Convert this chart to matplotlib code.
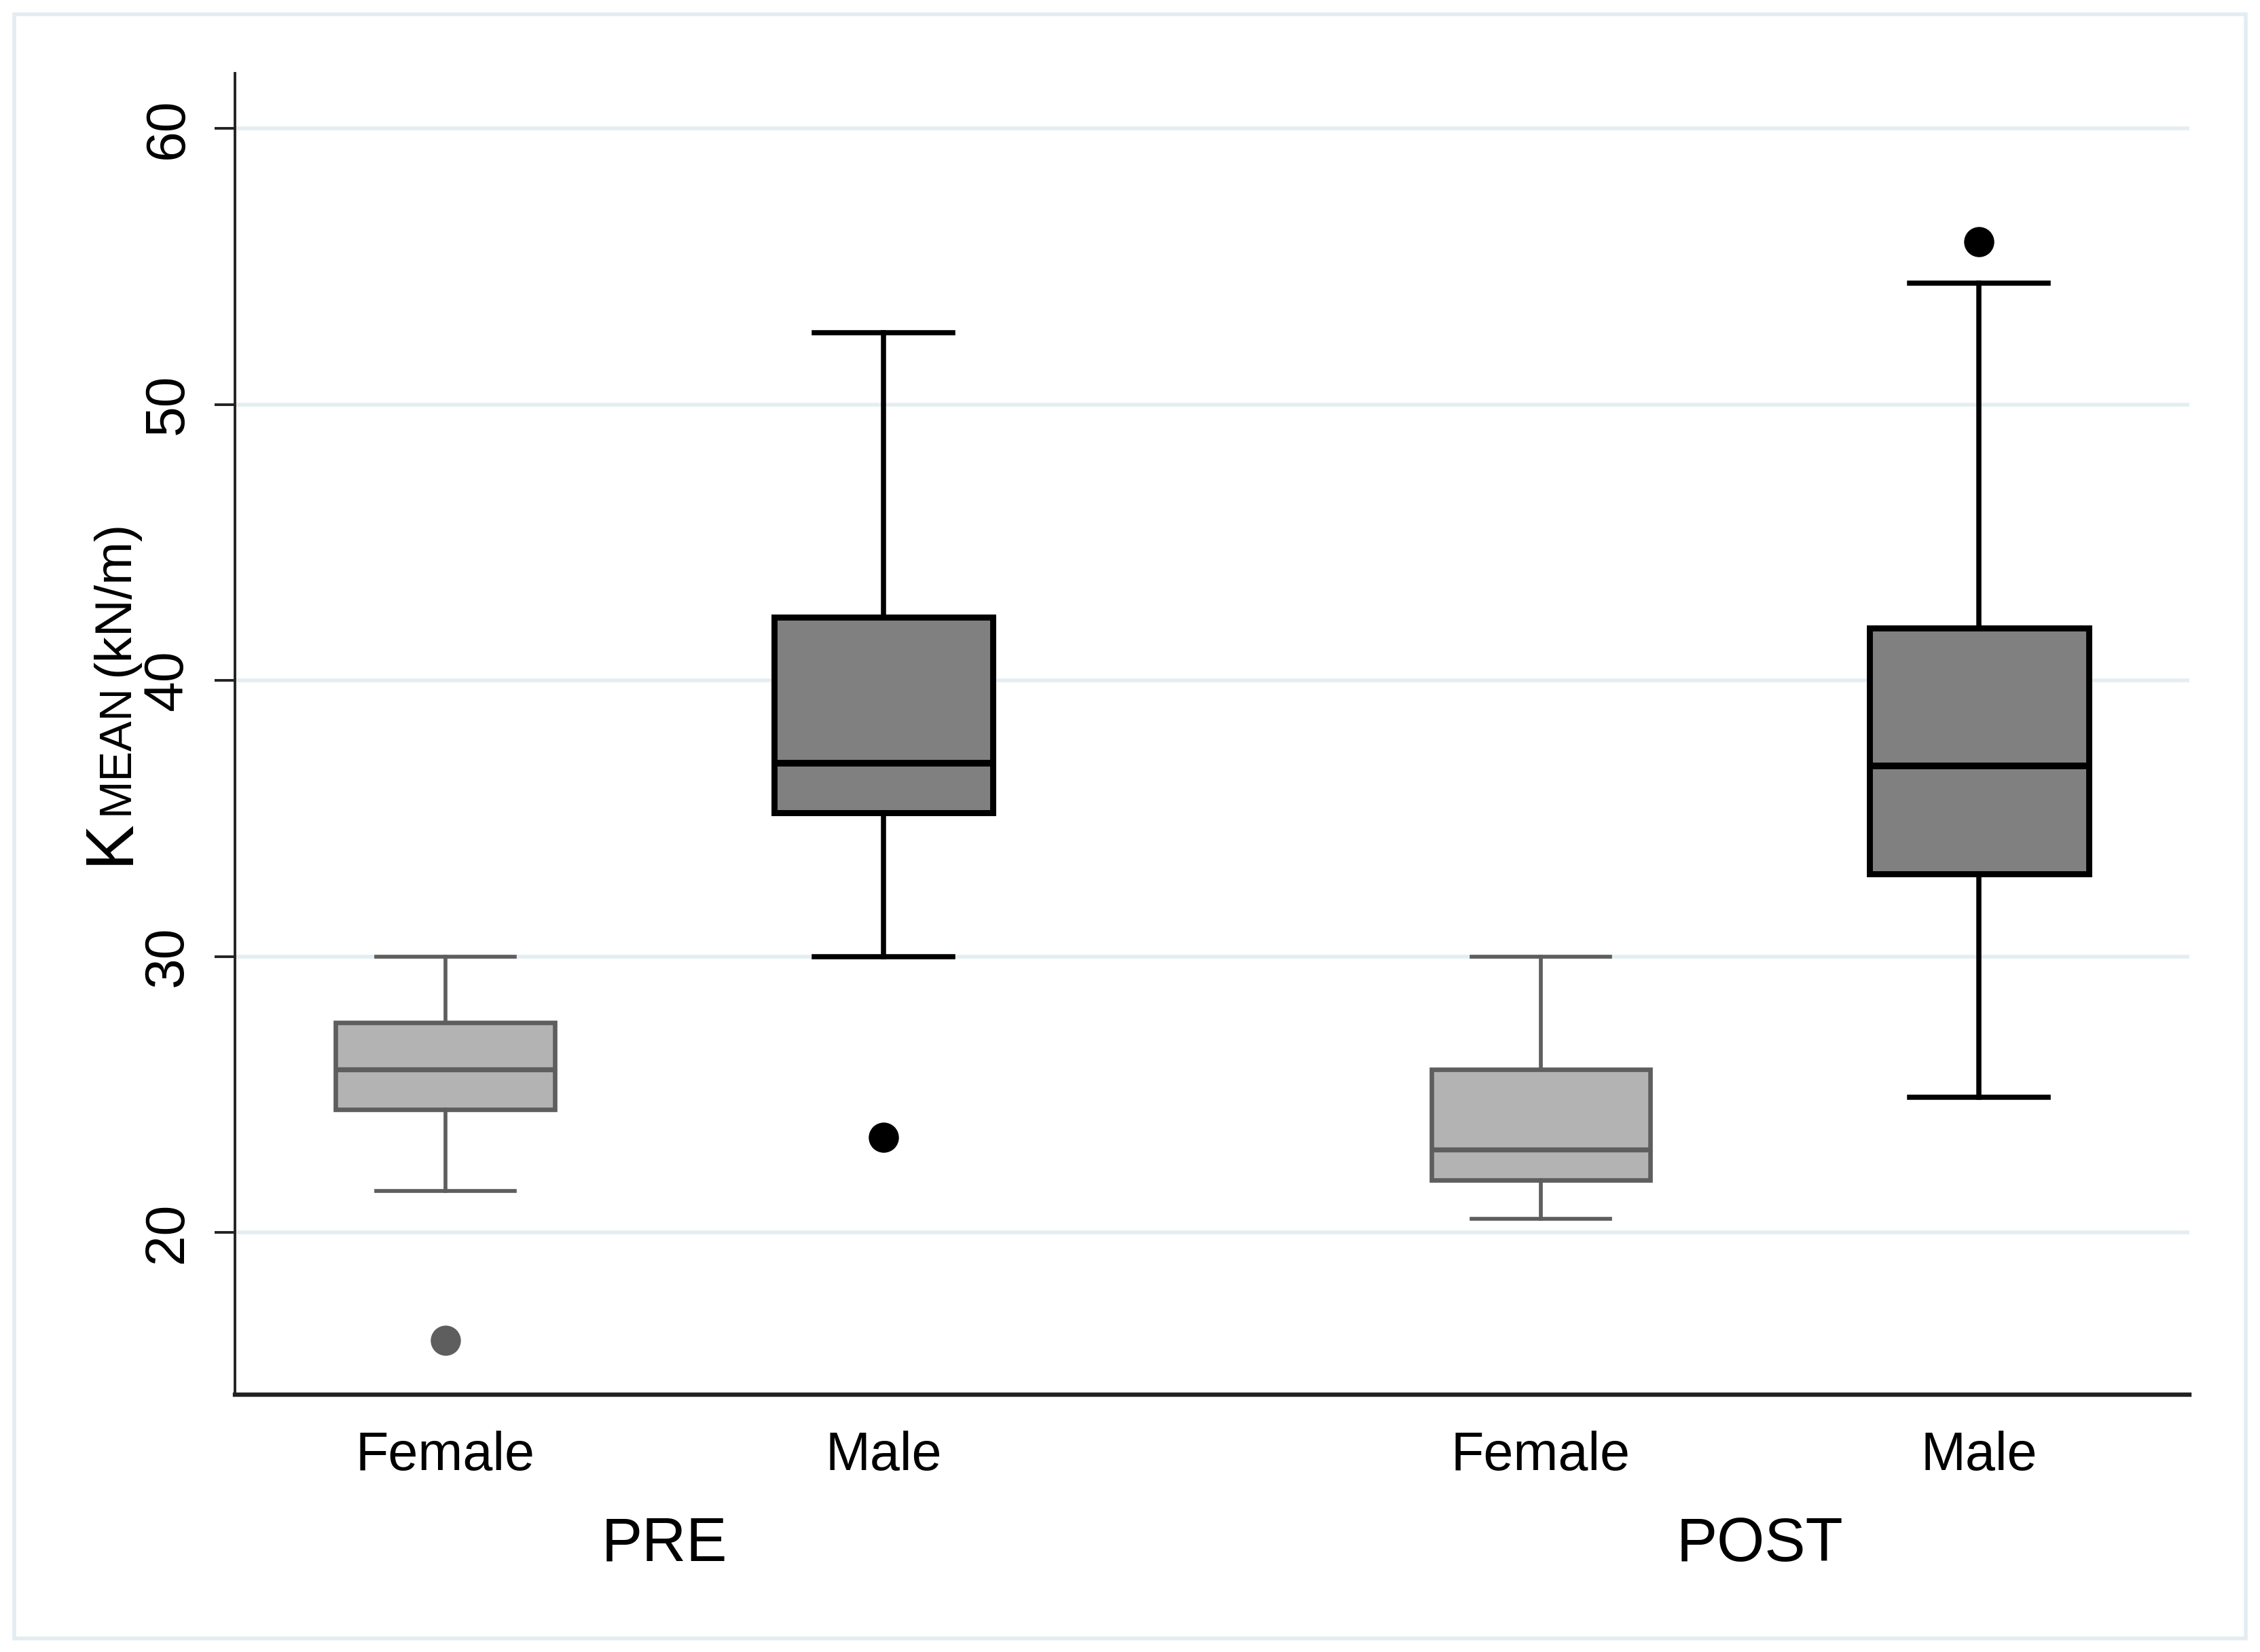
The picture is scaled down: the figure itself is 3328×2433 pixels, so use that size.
import matplotlib
matplotlib.use('Agg')
import matplotlib.pyplot as plt
import matplotlib.transforms as mtransforms
from matplotlib.patches import Rectangle

# ---------------- data ----------------
periods = ['PRE', 'POST']
sexes = ['Female', 'Male']
group_labels = ['Female', 'Male', 'Female', 'Male']
whislo = [21.5, 30.0, 20.5, 24.9]
q1 = [24.45, 35.2, 21.9, 33.0]
med = [25.9, 37.0, 23.0, 36.9]
q3 = [27.6, 42.3, 25.9, 41.9]
whishi = [30.0, 52.6, 30.0, 54.4]
fliers = [[16.1], [23.45], [], [55.9]]
yticks = [20, 30, 40, 50, 60]

positions = [0, 1, 2.5, 3.5]

plt.rcParams['font.family'] = ['Liberation Sans', 'DejaVu Sans']

W, H, DPI = 3328, 2433, 200
fig = plt.figure(figsize=(W / DPI, H / DPI), dpi=DPI)
fig.patch.set_facecolor('white')

left, right, bottom, top = 346 / W, 3224 / W, 1 - 2054 / H, 1 - 108 / H
ax = fig.add_axes([left, bottom, right - left, top - bottom])

stats = []
for i in range(4):
    stats.append(dict(label=group_labels[i], whislo=whislo[i], q1=q1[i], med=med[i],
                      q3=q3[i], whishi=whishi[i], fliers=fliers[i]))

styles = {
    'Female': dict(fill='#b3b3b3', edge='#5e5e5e', lw=2.4),
    'Male': dict(fill='#808080', edge='#000000', lw=3.2),
}

for sex in sexes:
    idx = [i for i in range(4) if group_labels[i] == sex]
    st = styles[sex]
    ax.bxp([stats[i] for i in idx], positions=[positions[i] for i in idx],
           widths=0.5, capwidths=0.316, patch_artist=True, showfliers=True,
           boxprops=dict(facecolor=st['fill'], edgecolor=st['edge'], linewidth=st['lw']),
           whiskerprops=dict(color=st['edge'], linewidth=st['lw'] * 0.85),
           capprops=dict(color=st['edge'], linewidth=st['lw'] * 0.85),
           medianprops=dict(color=st['edge'], linewidth=st['lw'] * 1.1),
           flierprops=dict(marker='o', markerfacecolor=st['edge'], markeredgecolor='none',
                           markersize=16),
           zorder=3)

ax.set_xlim(-0.48, 3.98)
ax.set_ylim(14.12, 62.0)

ax.set_yticks(yticks)
ax.set_yticklabels([str(v) for v in yticks], rotation=90, va='center')
ax.tick_params(axis='y', length=10.8, width=1.4, pad=11, labelsize=29, color='#222222')
ax.set_xticks(positions)
ax.set_xticklabels(group_labels)
ax.tick_params(axis='x', length=0, pad=19, labelsize=28.5)

ax.yaxis.grid(True, color='#e4eef1', linewidth=2.0)
ax.set_axisbelow(True)

for s in ['top', 'right']:
    ax.spines[s].set_visible(False)
ax.spines['left'].set_linewidth(1.4)
ax.spines['left'].set_color('#222222')
ax.spines['bottom'].set_linewidth(2.3)
ax.spines['bottom'].set_color('#222222')

# period labels
trans = mtransforms.blended_transform_factory(ax.transData, fig.transFigure)
for p, (a, b) in zip(periods, [(positions[0], positions[1]), (positions[2], positions[3])]):
    ax.text((a + b) / 2, 1 - 2275 / H, p, transform=trans, ha='center', va='center',
            fontsize=32.5)

# y label: K + small caps MEAN + (kN/m)
renderer = fig.canvas.get_renderer()
xb = 189 / W
y0 = 1 - 1273 / H
pieces = [('K', 36, 0), ('MEAN', 24, 6), ('(kN/m)', 27.5, 12)]
ycur = y0
for txt, fs, gap in pieces:
    ycur += gap / H
    t = fig.text(xb, ycur, txt, rotation=90, rotation_mode='anchor', ha='left',
                 va='baseline', fontsize=fs)
    bb = t.get_window_extent(renderer)
    ycur += bb.height / H

# outer light frame
fig.add_artist(Rectangle((21 / W, 1 - 2413 / H), (3307 - 21) / W, (2413 - 21) / H,
                         transform=fig.transFigure, fill=False, edgecolor='#e3edf1',
                         linewidth=2.0))

fig.savefig('out.png', dpi=DPI)
